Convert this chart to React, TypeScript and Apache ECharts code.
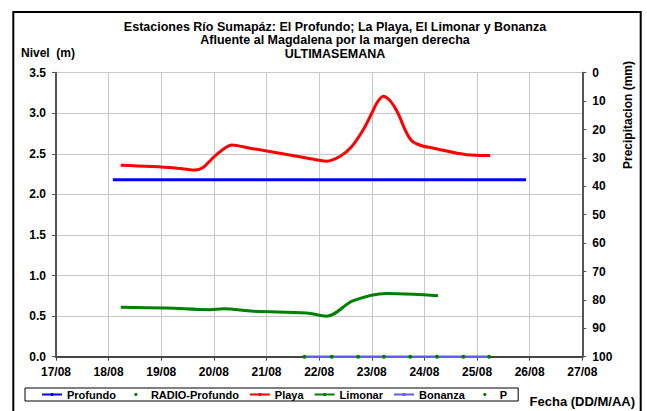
import React, { useEffect, useRef } from "react";
import * as echarts from "echarts";

const xTickLabels = ["17/08", "18/08", "19/08", "20/08", "21/08", "22/08", "23/08", "24/08", "25/08", "26/08", "27/08"];
const titleLines = [
  "Estaciones Río Sumapáz: El Profundo; La Playa, El Limonar y Bonanza",
  "Afluente al Magdalena por la margen derecha",
  "ULTIMASEMANA",
];

// x = days since 17/08 00:00
const profundoX = [1.08, 8.93];
const profundoY = [2.18, 2.18];

const playaX = [1.23, 2.23, 2.64, 2.79, 3.05, 3.34, 3.69, 4.76, 5.14, 5.4, 5.62, 5.84, 6.0, 6.1, 6.22, 6.34, 6.44, 6.52, 6.63, 6.76, 6.95, 7.17, 7.8, 8.25];
const playaY = [2.36, 2.33, 2.3, 2.33, 2.49, 2.61, 2.57, 2.45, 2.41, 2.47, 2.59, 2.8, 3.0, 3.13, 3.21, 3.16, 3.07, 2.97, 2.8, 2.66, 2.6, 2.57, 2.49, 2.48];

const limonarX = [1.23, 2.1, 2.93, 3.18, 3.75, 4.76, 5.14, 5.65, 6.28, 6.79, 7.26];
const limonarY = [0.61, 0.6, 0.58, 0.59, 0.56, 0.54, 0.5, 0.69, 0.78, 0.77, 0.75];

const bonanzaX = [4.72, 8.23];
const bonanzaY = [0, 0];

const radioX: number[] = [];
const radioY: number[] = [];

const pX = [4.72, 5.24, 5.74, 6.23, 6.73, 7.24, 7.74, 8.23];
const pY = [0, 0, 0, 0, 0, 0, 0, 0];

const zip = (xs: number[], ys: number[]) => xs.map((x, i) => [x, ys[i]]);

const FONT = '"Liberation Sans", Arial, sans-serif';

export default function App() {
  const ref = useRef<HTMLDivElement>(null);
  useEffect(() => {
    if (!ref.current) return;
    const chart = echarts.init(ref.current, undefined, { renderer: "svg" });
    const axisLabelStyle = { color: "#000", fontWeight: "bold" as const, fontSize: 12, fontFamily: FONT };
    chart.setOption({
      animation: false,
      backgroundColor: "#fff",
      grid: { left: 56, right: 64.7, top: 72.7, bottom: 54.3 },
      legend: {
        left: 25,
        top: 388,
        orient: "horizontal",
        itemWidth: 20,
        itemHeight: 4,
        itemGap: 10,
        padding: [1, 11, 1, 16],
        borderColor: "#000",
        borderWidth: 1,
        textStyle: { color: "#000", fontWeight: "bold", fontSize: 11, fontFamily: FONT },
        data: ["Profundo", "RADIO-Profundo", "Playa", "Limonar", "Bonanza", "P"],
      },
      xAxis: {
        type: "value",
        min: 0,
        max: 10,
        interval: 1,
        axisLine: { lineStyle: { color: "#444", width: 2 } },
        axisTick: { show: true, length: 4, lineStyle: { color: "#444" } },
        axisLabel: {
          ...axisLabelStyle,
          margin: 9,
          formatter: (v: number) => xTickLabels[Math.round(v)] ?? "",
        },
        splitLine: { show: true, lineStyle: { color: "#c8c8c8", width: 1 } },
      },
      yAxis: [
        {
          type: "value",
          min: 0,
          max: 3.5,
          interval: 0.5,
          axisLine: { show: true, lineStyle: { color: "#555", width: 2 } },
          axisTick: { show: true, length: 4, lineStyle: { color: "#555" } },
          axisLabel: { ...axisLabelStyle, margin: 10, formatter: (v: number) => v.toFixed(1) },
          splitLine: { show: true, lineStyle: { color: "#c8c8c8", width: 1 } },
        },
        {
          type: "value",
          min: 0,
          max: 100,
          interval: 10,
          inverse: true,
          position: "right",
          axisLine: { show: true, lineStyle: { color: "#555", width: 2 } },
          axisTick: { show: true, length: 4, lineStyle: { color: "#555" } },
          axisLabel: { ...axisLabelStyle, margin: 10 },
          splitLine: { show: false },
        },
      ],
      graphic: [
        {
          type: "rect",
          shape: { x: 13.3, y: 12, width: 627.4, height: 420 },
          style: { fill: "none", stroke: "#000", lineWidth: 2 },
          silent: true,
        },
        ...titleLines.map((t, i) => ({
          type: "text",
          x: 335,
          y: 27 + i * 13.3,
          style: {
            text: t,
            align: "center",
            verticalAlign: "middle",
            fill: "#000",
            font: `bold 12.5px ${FONT}`,
          },
        })),
        {
          type: "text",
          x: 21,
          y: 53,
          style: { text: "Nivel  (m)", align: "left", verticalAlign: "middle", fill: "#000", font: `bold 12px ${FONT}` },
        },
        {
          type: "text",
          x: 628,
          y: 115,
          rotation: Math.PI / 2,
          style: { text: "Precipitacion (mm)", align: "center", verticalAlign: "middle", fill: "#000", font: `bold 12px ${FONT}` },
        },
        {
          type: "text",
          x: 635,
          y: 401,
          style: { text: "Fecha (DD/M/AA)", align: "right", verticalAlign: "middle", fill: "#000", font: `bold 13px ${FONT}` },
        },
      ],
      series: [
        {
          name: "Profundo",
          type: "line",
          symbol: "none",
          data: zip(profundoX, profundoY),
          lineStyle: { color: "#0000ff", width: 3 },
          itemStyle: { color: "#0000ff" },
          z: 3,
        },
        {
          name: "RADIO-Profundo",
          type: "line",
          symbol: "circle",
          symbolSize: 4,
          data: zip(radioX, radioY),
          lineStyle: { width: 0, opacity: 0 },
          itemStyle: { color: "#008000" },
        },
        {
          name: "Playa",
          type: "line",
          symbol: "none",
          smooth: 0.3,
          data: zip(playaX, playaY),
          lineStyle: { color: "#ff0000", width: 3 },
          itemStyle: { color: "#ff0000" },
          z: 4,
        },
        {
          name: "Limonar",
          type: "line",
          symbol: "none",
          smooth: 0.35,
          data: zip(limonarX, limonarY),
          lineStyle: { color: "#008000", width: 3 },
          itemStyle: { color: "#008000" },
          z: 4,
        },
        {
          name: "Bonanza",
          type: "line",
          symbol: "none",
          data: zip(bonanzaX, bonanzaY),
          lineStyle: { color: "#6060e0", width: 2.5 },
          itemStyle: { color: "#6060e0" },
          z: 5,
        },
        {
          name: "P",
          type: "line",
          symbol: "circle",
          symbolSize: 4,
          data: zip(pX, pY),
          lineStyle: { width: 0, opacity: 0 },
          itemStyle: { color: "#008000", borderWidth: 0 },
          z: 6,
        },
      ],
    });
    return () => chart.dispose();
  }, []);
  return <div ref={ref} style={{ position: "fixed", left: 0, top: 0, width: 647, height: 411 }} />;
}
